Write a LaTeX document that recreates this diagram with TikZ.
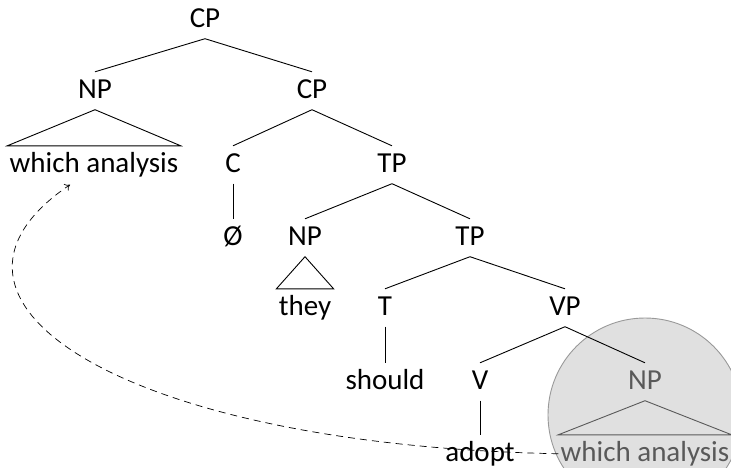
\documentclass[tikz,border=0pt]{standalone}
\usepackage{fontspec}
\setmainfont{Carlito}
\usepackage{tikz}
\usetikzlibrary{arrows,arrows.meta}

\begin{document}
\begin{tikzpicture}[x=1pt,y=-1pt, line width=0.9pt,
		lab/.style={anchor=base, text height=21.75pt, text depth=7.25pt, inner xsep=2pt, inner ysep=4pt},
		moved/.style={lab, black!65},
		font=\fontsize{29}{34}\selectfont]
	
	\useasboundingbox (0,0) rectangle (731,467);
	\clip (0,0) rectangle (731,467);
	
	% circle round the original position
	\filldraw[fill=black!12, draw=black!40] (645,415) circle (97);
	
	\node[lab] (cp) at (205,27) {CP};
	\node[lab] (np) at (95,98) {NP};
	\node[lab] (cpb) at (312,98) {CP};
	\node[lab] (wh) at (94,172) {which analysis};
	\node[lab] (c) at (233,172) {C};
	\node[lab] (tp) at (392,172) {TP};
	\node[lab] (null) at (233,245) {Ø};
	\node[lab] (npb) at (305,245) {NP};
	\node[lab] (tpb) at (470,245) {TP};
	\node[lab] (they) at (305,315) {they};
	\node[lab] (t) at (385,315) {T};
	\node[lab] (vp) at (565,315) {VP};
	\node[lab] (should) at (385,389) {should};
	\node[lab] (v) at (480,389) {V};
	\node[moved] (npc) at (645,389) {NP};
	\node[lab] (adopt) at (480,461) {adopt};
	\node[moved] (whb) at (645,461) {which analysis};
	
	\draw (cp.south) -- (np.north);
	\draw (cp.south) -- (cpb.north);
	\draw (np.south) -- (wh.north west) -- (wh.north east) -- cycle;
	\draw (cpb.south) -- (c.north);
	\draw (cpb.south) -- (tp.north);
	\draw (c.south) -- (null.north);
	\draw (tp.south) -- (npb.north);
	\draw (tp.south) -- (tpb.north);
	\draw (npb.south) -- (they.north west) -- (they.north east) -- cycle;
	\draw (tpb.south) -- (t.north);
	\draw (tpb.south) -- (vp.north);
	\draw (t.south) -- (should.north);
	\draw (vp.south) -- (v.north);
	\draw (vp.south) -- (npc.north);
	\draw (v.south) -- (adopt.north);
	\draw[black!65] (npc.south) -- (whb.north west) -- (whb.north east) -- cycle;
	
	% movement
	\coordinate (landing) at ([xshift=-24pt,yshift=-1pt]wh.south);
	\draw[-{To[length=5pt,width=8pt]}, line width=0.7pt, dash pattern=on 7pt off 5pt] (whb.west) .. controls (120,445) and (-100,300) .. (landing);
	
\end{tikzpicture}
\end{document}
